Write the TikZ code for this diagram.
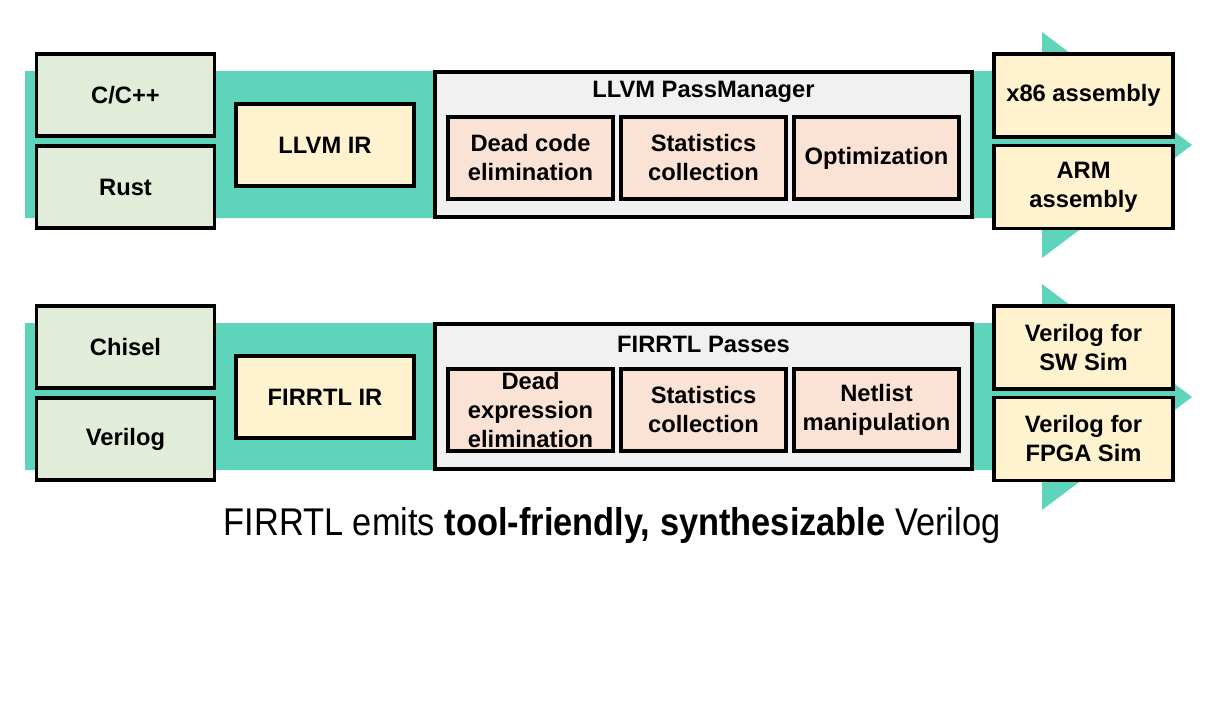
\documentclass[tikz,border=0pt]{standalone}
\usepackage{fontspec}
\setmainfont{Liberation Sans}
\definecolor{bandteal}{RGB}{94,212,187}
\definecolor{langfill}{RGB}{225,236,217}
\definecolor{irfill}{RGB}{255,242,206}
\definecolor{passfill}{RGB}{250,226,213}
\definecolor{grpfill}{RGB}{241,241,241}
\tikzset{
  box/.style={draw, line width=2pt, align=center, inner sep=0pt,
    font=\bfseries\fontsize{13.5}{16.5}\selectfont},
  lang/.style={box, fill=langfill, minimum width=3.56cm, minimum height=1.64cm},
  ir/.style={box, fill=irfill, minimum width=3.56cm, minimum height=1.64cm},
  outbox/.style={box, fill=irfill, minimum width=3.58cm, minimum height=1.66cm},
  grp/.style={box, fill=grpfill, minimum width=10.74cm, minimum height=2.9cm},
  pass/.style={box, fill=passfill, minimum width=3.3cm, minimum height=1.64cm},
  grptitle/.style={font=\bfseries\fontsize{13.5}{16.5}\selectfont, inner sep=0pt}
}
\begin{document}
\begin{tikzpicture}[x=0.02cm, y=-0.02cm]
  \useasboundingbox (0, 0) rectangle (1218, 707);
  \pgfmathsetmacro{\dy}{252}
  \foreach \row in {0, 1} {
    \fill[bandteal] (25, 71+\row*\dy) -- (1042, 71+\row*\dy)
      -- (1042, 32+\row*\dy) -- (1192, 145+\row*\dy) -- (1042, 258+\row*\dy)
      -- (1042, 218+\row*\dy) -- (25, 218+\row*\dy) -- cycle;
  }
  \node[lang] (cpp) at (125.5, 95) {C/C++};
  \node[lang] (rust) at (125.5, 187) {Rust};
  \node[ir] (llvmir) at (325, 145) {LLVM IR};
  \node[grp] (llvmpm) at (703.5, 144.5) {};
  \node[grptitle] (llvmpmtitle) at (703.5, 92) {LLVM PassManager};
  \node[pass] (dce) at (530.5, 158) {Dead code\\elimination};
  \node[pass] (llvmstats) at (703.5, 158) {Statistics\\collection};
  \node[pass] (opt) at (876.5, 158) {Optimization};
  \node[outbox] (x86) at (1083.5, 95.5) {x86 assembly};
  \node[outbox] (arm) at (1083.5, 187) {ARM\\assembly};
  \node[lang] (chisel) at (125.5, 95+\dy) {Chisel};
  \node[lang] (verilog) at (125.5, 187+\dy) {Verilog};
  \node[ir] (firrtlir) at (325, 145+\dy) {FIRRTL IR};
  \node[grp] (firrtlpm) at (703.5, 144.5+\dy) {};
  \node[grptitle] (firrtlpmtitle) at (703.5, 92+\dy) {FIRRTL Passes};
  \node[pass] (dee) at (530.5, 158+\dy) {Dead\\expression\\elimination};
  \node[pass] (firrtlstats) at (703.5, 158+\dy) {Statistics\\collection};
  \node[pass] (netlist) at (876.5, 158+\dy) {Netlist\\manipulation};
  \node[outbox] (swsim) at (1083.5, 95.5+\dy) {Verilog for\\SW Sim};
  \node[outbox] (fpgasim) at (1083.5, 187+\dy) {Verilog for\\FPGA Sim};
  \node[inner sep=0pt] (caption) at (612, 525)
       {\scalebox{0.89}[1]{\fontsize{22}{26}\selectfont FIRRTL emits
        \textbf{tool-friendly, synthesizable} Verilog}};
\end{tikzpicture}
\end{document}
